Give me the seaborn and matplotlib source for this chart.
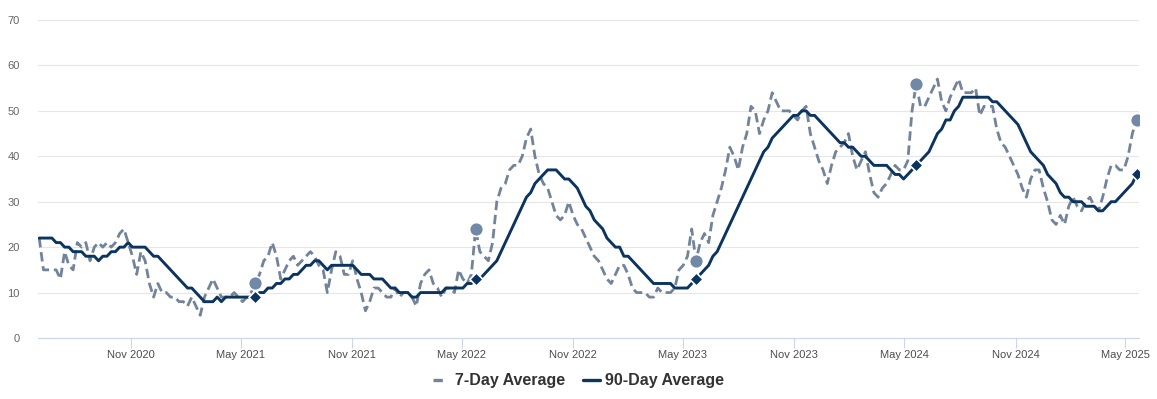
import os

os.environ.setdefault("MPLCONFIGDIR", "/tmp/matplotlib")

import matplotlib

matplotlib.use("Agg")
import matplotlib.dates as mdates
import matplotlib.pyplot as plt
from matplotlib.lines import Line2D
import pandas as pd
import seaborn as sns


# weekly readings, first week starting 2020-06-02
FIRST_WEEK = "2020-06-02"

SEVEN_DAY = [
    22, 15, 15, 15, 15, 13, 19, 16, 15, 21,
    20, 21, 17, 20, 21, 20, 21, 20, 21, 23,
    24, 21, 18, 14, 19, 17, 12, 9, 12, 10,
    10, 9, 9, 8, 8, 7, 9, 7, 5, 9,
    11, 13, 11, 9, 9, 9, 10, 9, 8, 9,
    10, 12, 14, 17, 18, 21, 18, 13, 15, 17,
    18, 16, 17, 18, 19, 18, 16, 15, 10, 15,
    19, 18, 14, 14, 17, 13, 10, 6, 8, 11,
    11, 10, 9, 9, 11, 9, 10, 10, 9, 7,
    12, 14, 15, 12, 11, 9, 11, 11, 10, 15,
    13, 12, 14, 24, 19, 18, 17, 21, 30, 33,
    34, 37, 38, 38, 40, 44, 46, 40, 36, 34,
    33, 30, 27, 26, 27, 30, 27, 25, 24, 22,
    20, 18, 17, 15, 13, 12, 14, 16, 16, 14,
    11, 10, 10, 10, 9, 9, 11, 10, 10, 10,
    11, 15, 16, 18, 24, 17, 21, 23, 21, 27,
    30, 33, 37, 42, 40, 37, 42, 45, 51, 50,
    45, 48, 50, 54, 52, 50, 50, 50, 49, 48,
    50, 51, 45, 42, 39, 37, 34, 38, 41, 42,
    43, 45, 40, 37, 39, 41, 36, 32, 31, 33,
    34, 36, 38, 37, 37, 39, 50, 56, 51, 51,
    53, 55, 57, 52, 50, 53, 55, 57, 54, 54,
    54, 55, 49, 51, 51, 51, 46, 43, 42, 40,
    38, 36, 33, 31, 35, 37, 37, 33, 30, 26,
    25, 27, 25, 29, 31, 29, 28, 30, 31, 29,
    28, 31, 35, 38, 38, 37, 37, 40, 45, 48,
]

NINETY_DAY = [
    22, 22, 22, 22, 21, 21, 20, 20, 19, 19,
    19, 18, 18, 18, 17, 18, 18, 19, 19, 20,
    20, 21, 20, 20, 20, 20, 19, 18, 18, 17,
    16, 15, 14, 13, 12, 11, 11, 10, 9, 8,
    8, 8, 9, 8, 9, 9, 9, 9, 9, 9,
    9, 9, 10, 10, 11, 11, 12, 12, 13, 13,
    14, 14, 15, 16, 16, 17, 17, 16, 15, 16,
    16, 16, 16, 16, 16, 15, 14, 14, 14, 13,
    13, 13, 12, 11, 11, 10, 10, 10, 9, 9,
    10, 10, 10, 10, 10, 10, 11, 11, 11, 11,
    11, 12, 12, 13, 13, 14, 15, 16, 17, 19,
    21, 23, 25, 27, 29, 31, 32, 34, 35, 36,
    37, 37, 37, 36, 35, 35, 34, 33, 31, 29,
    28, 26, 25, 24, 22, 21, 20, 20, 18, 18,
    17, 16, 15, 14, 13, 12, 12, 12, 12, 12,
    11, 11, 11, 11, 12, 13, 14, 15, 16, 18,
    19, 21, 23, 25, 27, 29, 31, 33, 35, 37,
    39, 41, 42, 44, 45, 46, 47, 48, 49, 49,
    50, 50, 49, 49, 48, 47, 46, 45, 44, 43,
    43, 42, 42, 41, 40, 40, 39, 38, 38, 38,
    38, 37, 36, 36, 35, 36, 37, 38, 39, 40,
    41, 43, 45, 46, 48, 48, 50, 51, 53, 53,
    53, 53, 53, 53, 53, 52, 52, 51, 50, 49,
    48, 47, 45, 43, 41, 40, 39, 38, 36, 35,
    34, 32, 31, 31, 30, 30, 30, 29, 29, 29,
    28, 28, 29, 30, 30, 31, 32, 33, 34, 36,
]

TICK_DATES = [
    "2020-11-01", "2021-05-01", "2021-11-01", "2022-05-01", "2022-11-01",
    "2023-05-01", "2023-11-01", "2024-05-01", "2024-11-01", "2025-05-01",
]
Y_TICKS = [0, 10, 20, 30, 40, 50, 60, 70]

DASH_COLOR = "#72839a"
CIRCLE_COLOR = "#6f89a7"
NAVY = "#0c3460"
GRID_COLOR = "#e6e6e6"
AXIS_COLOR = "#ccd6eb"
DASHES = (0, (3.4, 1.7))


def build_frame() -> pd.DataFrame:
    dates = pd.date_range(FIRST_WEEK, periods=len(SEVEN_DAY), freq="7D")
    return pd.DataFrame({"date": dates, "seven": SEVEN_DAY, "ninety": NINETY_DAY})


def main() -> None:
    frame = build_frame()
    # same week in each earlier year, counted back from the latest reading
    marks = frame.iloc[::-1].iloc[::52]

    sns.set_theme(style="white")
    plt.rcParams["font.family"] = ["Liberation Sans", "DejaVu Sans"]

    width, height = 1157, 399
    fig = plt.figure(figsize=(width / 100, height / 100), dpi=100)
    ax = fig.add_axes([38 / width, 1 - 338 / height, (1139 - 38) / width, 318 / height])

    sns.lineplot(data=frame, x="date", y="seven", ax=ax, color=DASH_COLOR,
                 linewidth=2, linestyle=DASHES, zorder=2)
    sns.scatterplot(data=marks, x="date", y="seven", ax=ax, marker="o", s=100,
                    color=CIRCLE_COLOR, edgecolor="white", linewidth=1.2, zorder=3)
    sns.lineplot(data=frame, x="date", y="ninety", ax=ax, color=NAVY,
                 linewidth=2.1, zorder=4)
    sns.scatterplot(data=marks, x="date", y="ninety", ax=ax, marker="D", s=45,
                    color=NAVY, edgecolor="white", linewidth=1.2, zorder=5)

    ax.set_xlim(pd.Timestamp("2020-05-31"), pd.Timestamp("2025-05-24"))
    ax.set_ylim(0, 70)
    ax.set_yticks(Y_TICKS)
    ax.set_xticks(pd.to_datetime(TICK_DATES))
    ax.xaxis.set_major_formatter(mdates.DateFormatter("%b %Y"))
    ax.set_xlabel("")
    ax.set_ylabel("")

    ax.grid(axis="y", color=GRID_COLOR, linewidth=0.8)
    ax.grid(axis="x", visible=False)
    ax.tick_params(axis="x", bottom=True, length=7, width=0.8, color=AXIS_COLOR,
                   labelsize=8, labelcolor="#4d4d4d", pad=2)
    ax.tick_params(axis="y", left=False, length=0, labelsize=8,
                   labelcolor="#666666", pad=13)
    for side in ["left", "right", "top"]:
        ax.spines[side].set_visible(False)
    ax.spines["bottom"].set_color(AXIS_COLOR)
    ax.spines["bottom"].set_linewidth(0.8)

    handles = [
        Line2D([], [], color=DASH_COLOR, linewidth=2.4, linestyle=(0, (2.8, 4))),
        Line2D([], [], color=NAVY, linewidth=2.4),
    ]
    legend = fig.legend(handles, ["7-Day Average", "90-Day Average"], loc="center",
                        bbox_to_anchor=(0.5, 1 - 381 / height), ncol=2, frameon=False,
                        handlelength=1.1, handletextpad=0.3, columnspacing=1.1,
                        prop={"weight": "bold", "size": 11.5})
    for text in legend.get_texts():
        text.set_color("#333333")

    fig.savefig("out.png", dpi=100, facecolor="white")
    plt.close(fig)


if __name__ == "__main__":
    main()
